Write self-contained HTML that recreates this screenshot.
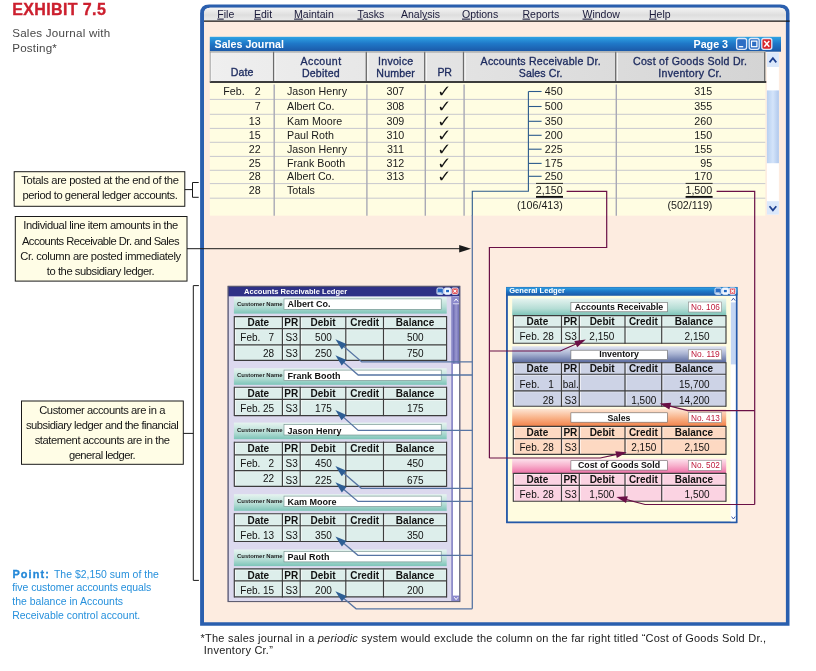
<!DOCTYPE html>
<html lang="en">
<head>
<meta charset="utf-8">
<title>Exhibit 7.5 Sales Journal with Posting</title>
<style>
html,body{margin:0;padding:0;background:#fff;}
body{width:816px;height:671px;overflow:hidden;}
svg{display:block;font-family:'Liberation Sans', Arial, Helvetica, sans-serif;}
</style>
</head>
<body>
<svg width="816" height="671" viewBox="0 0 816 671" font-family="'Liberation Sans', Arial, Helvetica, sans-serif">
<defs>
<linearGradient id="menug" x1="0" y1="0" x2="0" y2="1"><stop offset="0" stop-color="#f4f4f4"/><stop offset="0.55" stop-color="#dedede"/><stop offset="1" stop-color="#ececec"/></linearGradient>
<linearGradient id="titleg" x1="0" y1="0" x2="0" y2="1"><stop offset="0" stop-color="#2fa4e4"/><stop offset="0.45" stop-color="#1f78c8"/><stop offset="1" stop-color="#1b57a6"/></linearGradient>
<linearGradient id="hdrg" x1="0" y1="0" x2="1" y2="0"><stop offset="0" stop-color="#efefef"/><stop offset="1" stop-color="#d4d4d4"/></linearGradient>
<linearGradient id="tealg" x1="0" y1="0" x2="0" y2="1"><stop offset="0" stop-color="#e6f4f0"/><stop offset="0.6" stop-color="#b5ddd5"/><stop offset="1" stop-color="#7cc4b8"/></linearGradient>
<linearGradient id="invg" x1="0" y1="0" x2="0" y2="1"><stop offset="0" stop-color="#e2e6f2"/><stop offset="0.45" stop-color="#a9b3d2"/><stop offset="1" stop-color="#53639a"/></linearGradient>
<linearGradient id="salg" x1="0" y1="0" x2="0" y2="1"><stop offset="0" stop-color="#fde6d6"/><stop offset="0.5" stop-color="#f9b58c"/><stop offset="1" stop-color="#f2824a"/></linearGradient>
<linearGradient id="cogg" x1="0" y1="0" x2="0" y2="1"><stop offset="0" stop-color="#fde4ee"/><stop offset="0.5" stop-color="#f7aecb"/><stop offset="1" stop-color="#ee6fa6"/></linearGradient>
<linearGradient id="thumbg" x1="0" y1="0" x2="1" y2="0"><stop offset="0" stop-color="#b8d0f0"/><stop offset="0.5" stop-color="#d4e4fa"/><stop offset="1" stop-color="#b0c8ec"/></linearGradient>
<linearGradient id="arthumb" x1="0" y1="0" x2="1" y2="0"><stop offset="0" stop-color="#6a68b0"/><stop offset="0.5" stop-color="#9a98d0"/><stop offset="1" stop-color="#6a68b0"/></linearGradient>
</defs>
<path d="M200.1,625.8 L200.1,13.5 Q200.1,4.5 209.1,4.5 L780.5,4.5 Q789.5,4.5 789.5,13.5 L789.5,625.8 Z" fill="#2a5fae"/>
<path d="M204.0,622.1999999999999 L204.0,13.8 Q204.0,7.8 210.0,7.8 L779.9,7.8 Q785.9,7.8 785.9,13.8 L785.9,622.1999999999999 Z" fill="#fdece0"/>
<path d="M204.0,21 L204.0,13.8 Q204.0,7.8 210.0,7.8 L779.9,7.8 Q785.9,7.8 785.9,13.8 L785.9,21 Z" fill="url(#menug)"/>
<line x1="204.00" y1="21.10" x2="789.70" y2="21.10" stroke="#151515" stroke-width="1.25" />
<text x="217.30" y="17.60" font-size="10.5" fill="#1a1a3a" ><tspan text-decoration="underline">F</tspan>ile</text>
<text x="254.00" y="17.60" font-size="10.5" fill="#1a1a3a" ><tspan text-decoration="underline">E</tspan>dit</text>
<text x="294.10" y="17.60" font-size="10.5" fill="#1a1a3a" ><tspan text-decoration="underline">M</tspan>aintain</text>
<text x="357.40" y="17.60" font-size="10.5" fill="#1a1a3a" ><tspan text-decoration="underline">T</tspan>asks</text>
<text x="401.00" y="17.60" font-size="10.5" fill="#1a1a3a" >Anal<tspan text-decoration="underline">y</tspan>sis</text>
<text x="462.00" y="17.60" font-size="10.5" fill="#1a1a3a" ><tspan text-decoration="underline">O</tspan>ptions</text>
<text x="522.50" y="17.60" font-size="10.5" fill="#1a1a3a" ><tspan text-decoration="underline">R</tspan>eports</text>
<text x="582.50" y="17.60" font-size="10.5" fill="#1a1a3a" ><tspan text-decoration="underline">W</tspan>indow</text>
<text x="649.00" y="17.60" font-size="10.5" fill="#1a1a3a" ><tspan text-decoration="underline">H</tspan>elp</text>
<rect x="209.80" y="36.80" width="571.20" height="14.90" fill="url(#titleg)" />
<text x="214.50" y="47.80" font-size="10.7" font-weight="bold" fill="#fff" >Sales Journal</text>
<text x="728.00" y="47.80" font-size="10.7" text-anchor="end" font-weight="bold" fill="#fff" >Page 3</text>
<rect x="736.60" y="38.50" width="10.00" height="10.80" fill="#2d6ec4" stroke="#dfe8f8" stroke-width="1.3" rx="2" />
<line x1="738.80" y1="46.70" x2="743.20" y2="46.70" stroke="#fff" stroke-width="1.3" />
<rect x="749.20" y="38.50" width="10.00" height="10.80" fill="#2d6ec4" stroke="#dfe8f8" stroke-width="1.3" rx="2" />
<rect x="751.50" y="41.10" width="5.40" height="5.60" fill="none" stroke="#fff" stroke-width="1.2" />
<rect x="761.80" y="38.50" width="10.00" height="10.80" fill="#d8262c" stroke="#dfe8f8" stroke-width="1.3" rx="2" />
<path d="M764.3000000000001,41.0 L769.3000000000001,46.8 M769.3000000000001,41.0 L764.3000000000001,46.8" stroke="#fff" stroke-width="1.5" fill="none" />
<rect x="209.80" y="51.40" width="555.50" height="164.30" fill="#fffde2" />
<rect x="209.80" y="51.70" width="555.50" height="30.20" fill="url(#hdrg)" />
<line x1="210.80" y1="52.20" x2="210.80" y2="80.90" stroke="#fafafa" stroke-width="1" />
<line x1="273.60" y1="51.70" x2="273.60" y2="81.90" stroke="#6a6a6a" stroke-width="1.3" />
<line x1="275.20" y1="52.20" x2="275.20" y2="80.90" stroke="#fafafa" stroke-width="1" />
<line x1="366.30" y1="51.70" x2="366.30" y2="81.90" stroke="#6a6a6a" stroke-width="1.3" />
<line x1="367.90" y1="52.20" x2="367.90" y2="80.90" stroke="#fafafa" stroke-width="1" />
<line x1="424.70" y1="51.70" x2="424.70" y2="81.90" stroke="#6a6a6a" stroke-width="1.3" />
<line x1="426.30" y1="52.20" x2="426.30" y2="80.90" stroke="#fafafa" stroke-width="1" />
<line x1="463.50" y1="51.70" x2="463.50" y2="81.90" stroke="#6a6a6a" stroke-width="1.3" />
<line x1="465.10" y1="52.20" x2="465.10" y2="80.90" stroke="#fafafa" stroke-width="1" />
<line x1="615.70" y1="51.70" x2="615.70" y2="81.90" stroke="#6a6a6a" stroke-width="1.3" />
<line x1="617.30" y1="52.20" x2="617.30" y2="80.90" stroke="#fafafa" stroke-width="1" />
<line x1="764.70" y1="51.70" x2="764.70" y2="81.90" stroke="#6a6a6a" stroke-width="1.3" />
<line x1="209.80" y1="52.00" x2="765.30" y2="52.00" stroke="#8a8a8a" stroke-width="0.8" />
<line x1="209.80" y1="82.00" x2="766.30" y2="82.00" stroke="#3c3c3c" stroke-width="1.8" />
<line x1="210.20" y1="51.70" x2="210.20" y2="81.90" stroke="#8a8a8a" stroke-width="0.8" />
<text x="230.70" y="75.80" font-size="10.6" fill="#1c2a5e" textLength="22.6" lengthAdjust="spacing" stroke="#1c2a5e" stroke-width="0.32">Date</text>
<text x="300.50" y="64.60" font-size="10.6" fill="#1c2a5e" textLength="40.6" lengthAdjust="spacing" stroke="#1c2a5e" stroke-width="0.32">Account</text>
<text x="301.90" y="77.00" font-size="10.6" fill="#1c2a5e" textLength="37.8" lengthAdjust="spacing" stroke="#1c2a5e" stroke-width="0.32">Debited</text>
<text x="378.10" y="64.60" font-size="10.6" fill="#1c2a5e" textLength="35.0" lengthAdjust="spacing" stroke="#1c2a5e" stroke-width="0.32">Invoice</text>
<text x="376.30" y="77.00" font-size="10.6" fill="#1c2a5e" textLength="38.6" lengthAdjust="spacing" stroke="#1c2a5e" stroke-width="0.32">Number</text>
<text x="437.40" y="76.20" font-size="10.6" fill="#1c2a5e" textLength="14.4" lengthAdjust="spacing" stroke="#1c2a5e" stroke-width="0.32">PR</text>
<text x="480.60" y="64.60" font-size="10.6" fill="#1c2a5e" textLength="120.0" lengthAdjust="spacing" stroke="#1c2a5e" stroke-width="0.32">Accounts Receivable Dr.</text>
<text x="518.80" y="77.00" font-size="10.6" fill="#1c2a5e" textLength="43.6" lengthAdjust="spacing" stroke="#1c2a5e" stroke-width="0.32">Sales Cr.</text>
<text x="633.05" y="64.60" font-size="10.6" fill="#1c2a5e" textLength="113.9" lengthAdjust="spacing" stroke="#1c2a5e" stroke-width="0.32">Cost of Goods Sold Dr.</text>
<text x="658.20" y="77.00" font-size="10.6" fill="#1c2a5e" textLength="63.6" lengthAdjust="spacing" stroke="#1c2a5e" stroke-width="0.32">Inventory Cr.</text>
<line x1="209.80" y1="99.40" x2="765.30" y2="99.40" stroke="#c8c8ce" stroke-width="1" />
<line x1="209.80" y1="114.30" x2="765.30" y2="114.30" stroke="#c8c8ce" stroke-width="1" />
<line x1="209.80" y1="128.40" x2="765.30" y2="128.40" stroke="#c8c8ce" stroke-width="1" />
<line x1="209.80" y1="142.30" x2="765.30" y2="142.30" stroke="#c8c8ce" stroke-width="1" />
<line x1="209.80" y1="156.40" x2="765.30" y2="156.40" stroke="#c8c8ce" stroke-width="1" />
<line x1="209.80" y1="170.30" x2="765.30" y2="170.30" stroke="#c8c8ce" stroke-width="1" />
<line x1="209.80" y1="183.60" x2="765.30" y2="183.60" stroke="#c8c8ce" stroke-width="1" />
<line x1="209.80" y1="198.20" x2="765.30" y2="198.20" stroke="#c8c8ce" stroke-width="1" />
<line x1="274.20" y1="84.40" x2="274.20" y2="215.70" stroke="#a9a9b6" stroke-width="1.4" />
<line x1="366.90" y1="84.40" x2="366.90" y2="215.70" stroke="#a9a9b6" stroke-width="1.4" />
<line x1="425.30" y1="84.40" x2="425.30" y2="215.70" stroke="#a9a9b6" stroke-width="1.4" />
<line x1="464.10" y1="84.40" x2="464.10" y2="215.70" stroke="#a9a9b6" stroke-width="1.4" />
<line x1="616.30" y1="84.40" x2="616.30" y2="215.70" stroke="#a9a9b6" stroke-width="1.4" />
<text x="223.30" y="94.90" font-size="10.7" fill="#1a1a1a" >Feb.</text>
<text x="260.60" y="94.90" font-size="10.7" text-anchor="end" fill="#1a1a1a" >2</text>
<text x="287.00" y="94.90" font-size="10.7" fill="#1a1a1a" >Jason Henry</text>
<text x="395.40" y="94.90" font-size="10.7" text-anchor="middle" fill="#1a1a1a" >307</text>
<text x="444.20" y="97.10" font-size="16.8" text-anchor="middle" font-weight="bold" fill="#111" font-family="DejaVu Sans, sans-serif">✓</text>
<text x="562.60" y="94.90" font-size="10.7" text-anchor="end" fill="#1a1a1a" >450</text>
<text x="712.20" y="94.90" font-size="10.7" text-anchor="end" fill="#1a1a1a" >315</text>
<text x="260.60" y="109.90" font-size="10.7" text-anchor="end" fill="#1a1a1a" >7</text>
<text x="287.00" y="109.90" font-size="10.7" fill="#1a1a1a" >Albert Co.</text>
<text x="395.40" y="109.90" font-size="10.7" text-anchor="middle" fill="#1a1a1a" >308</text>
<text x="444.20" y="112.10" font-size="16.8" text-anchor="middle" font-weight="bold" fill="#111" font-family="DejaVu Sans, sans-serif">✓</text>
<text x="562.60" y="109.90" font-size="10.7" text-anchor="end" fill="#1a1a1a" >500</text>
<text x="712.20" y="109.90" font-size="10.7" text-anchor="end" fill="#1a1a1a" >355</text>
<text x="260.60" y="124.90" font-size="10.7" text-anchor="end" fill="#1a1a1a" >13</text>
<text x="287.00" y="124.90" font-size="10.7" fill="#1a1a1a" >Kam Moore</text>
<text x="395.40" y="124.90" font-size="10.7" text-anchor="middle" fill="#1a1a1a" >309</text>
<text x="444.20" y="127.10" font-size="16.8" text-anchor="middle" font-weight="bold" fill="#111" font-family="DejaVu Sans, sans-serif">✓</text>
<text x="562.60" y="124.90" font-size="10.7" text-anchor="end" fill="#1a1a1a" >350</text>
<text x="712.20" y="124.90" font-size="10.7" text-anchor="end" fill="#1a1a1a" >260</text>
<text x="260.60" y="138.90" font-size="10.7" text-anchor="end" fill="#1a1a1a" >15</text>
<text x="287.00" y="138.90" font-size="10.7" fill="#1a1a1a" >Paul Roth</text>
<text x="395.40" y="138.90" font-size="10.7" text-anchor="middle" fill="#1a1a1a" >310</text>
<text x="444.20" y="141.10" font-size="16.8" text-anchor="middle" font-weight="bold" fill="#111" font-family="DejaVu Sans, sans-serif">✓</text>
<text x="562.60" y="138.90" font-size="10.7" text-anchor="end" fill="#1a1a1a" >200</text>
<text x="712.20" y="138.90" font-size="10.7" text-anchor="end" fill="#1a1a1a" >150</text>
<text x="260.60" y="152.90" font-size="10.7" text-anchor="end" fill="#1a1a1a" >22</text>
<text x="287.00" y="152.90" font-size="10.7" fill="#1a1a1a" >Jason Henry</text>
<text x="395.40" y="152.90" font-size="10.7" text-anchor="middle" fill="#1a1a1a" >311</text>
<text x="444.20" y="155.10" font-size="16.8" text-anchor="middle" font-weight="bold" fill="#111" font-family="DejaVu Sans, sans-serif">✓</text>
<text x="562.60" y="152.90" font-size="10.7" text-anchor="end" fill="#1a1a1a" >225</text>
<text x="712.20" y="152.90" font-size="10.7" text-anchor="end" fill="#1a1a1a" >155</text>
<text x="260.60" y="166.90" font-size="10.7" text-anchor="end" fill="#1a1a1a" >25</text>
<text x="287.00" y="166.90" font-size="10.7" fill="#1a1a1a" >Frank Booth</text>
<text x="395.40" y="166.90" font-size="10.7" text-anchor="middle" fill="#1a1a1a" >312</text>
<text x="444.20" y="169.10" font-size="16.8" text-anchor="middle" font-weight="bold" fill="#111" font-family="DejaVu Sans, sans-serif">✓</text>
<text x="562.60" y="166.90" font-size="10.7" text-anchor="end" fill="#1a1a1a" >175</text>
<text x="712.20" y="166.90" font-size="10.7" text-anchor="end" fill="#1a1a1a" >95</text>
<text x="260.60" y="180.20" font-size="10.7" text-anchor="end" fill="#1a1a1a" >28</text>
<text x="287.00" y="180.20" font-size="10.7" fill="#1a1a1a" >Albert Co.</text>
<text x="395.40" y="180.20" font-size="10.7" text-anchor="middle" fill="#1a1a1a" >313</text>
<text x="444.20" y="182.40" font-size="16.8" text-anchor="middle" font-weight="bold" fill="#111" font-family="DejaVu Sans, sans-serif">✓</text>
<text x="562.60" y="180.20" font-size="10.7" text-anchor="end" fill="#1a1a1a" >250</text>
<text x="712.20" y="180.20" font-size="10.7" text-anchor="end" fill="#1a1a1a" >170</text>
<text x="260.60" y="194.20" font-size="10.7" text-anchor="end" fill="#1a1a1a" >28</text>
<text x="287.00" y="194.20" font-size="10.7" fill="#1a1a1a" >Totals</text>
<text x="562.60" y="194.20" font-size="10.7" text-anchor="end" fill="#1a1a1a" >2,150</text>
<text x="712.20" y="194.20" font-size="10.7" text-anchor="end" fill="#1a1a1a" >1,500</text>
<text x="562.80" y="209.00" font-size="10.7" text-anchor="end" fill="#1a1a1a" >(106/413)</text>
<text x="712.40" y="209.00" font-size="10.7" text-anchor="end" fill="#1a1a1a" >(502/119)</text>
<line x1="536.00" y1="183.40" x2="563.00" y2="183.40" stroke="#111" stroke-width="0.9" />
<line x1="536.00" y1="196.90" x2="563.00" y2="196.90" stroke="#111" stroke-width="1.9" />
<line x1="685.60" y1="183.40" x2="712.60" y2="183.40" stroke="#111" stroke-width="0.9" />
<line x1="685.60" y1="196.90" x2="712.60" y2="196.90" stroke="#111" stroke-width="1.9" />
<rect x="766.90" y="52.40" width="12.00" height="162.20" fill="#ffffff" />
<rect x="766.90" y="52.40" width="12.00" height="14.60" fill="#dbe8fb" />
<path d="M769.5,62.4 L772.9,58.2 L776.3,62.4" stroke="#1d3f8f" stroke-width="1.7" fill="none" />
<rect x="766.90" y="90.40" width="12.00" height="72.80" fill="url(#thumbg)" />
<rect x="766.90" y="201.20" width="12.00" height="13.40" fill="#dbe8fb" />
<path d="M769.5,206.2 L772.9,210.4 L776.3,206.2" stroke="#1d3f8f" stroke-width="1.7" fill="none" />
<path d="M528.4,91.5 L528.4,191.2 L472.3,191.2 L472.3,215.4" stroke="#2b5a8c" stroke-width="1.1" fill="none" />
<path d="M472.3,215.0 L472.3,608.8" stroke="#5674a3" stroke-width="1.3" fill="none" />
<line x1="528.40" y1="91.50" x2="541.60" y2="91.50" stroke="#2b5a8c" stroke-width="1.1" />
<line x1="528.40" y1="106.50" x2="541.60" y2="106.50" stroke="#2b5a8c" stroke-width="1.1" />
<line x1="528.40" y1="121.30" x2="541.60" y2="121.30" stroke="#2b5a8c" stroke-width="1.1" />
<line x1="528.40" y1="135.30" x2="541.60" y2="135.30" stroke="#2b5a8c" stroke-width="1.1" />
<line x1="528.40" y1="149.20" x2="541.60" y2="149.20" stroke="#2b5a8c" stroke-width="1.1" />
<line x1="528.40" y1="163.40" x2="541.60" y2="163.40" stroke="#2b5a8c" stroke-width="1.1" />
<line x1="528.40" y1="176.30" x2="541.60" y2="176.30" stroke="#2b5a8c" stroke-width="1.1" />
<rect x="228.10" y="286.30" width="231.70" height="315.30" fill="#dcd9ee" stroke="#5a5a9a" stroke-width="0.8" />
<rect x="228.10" y="286.30" width="231.70" height="10.00" fill="#2e3186" />
<text x="244.00" y="293.70" font-size="7.55" font-weight="bold" fill="#fff" >Accounts Receivable Ledger</text>
<rect x="437.00" y="288.00" width="6.30" height="6.30" fill="#2a6cc8" stroke="#e4ecfb" stroke-width="1.0" rx="1.2" />
<line x1="437.80" y1="293.10" x2="441.70" y2="293.10" stroke="#fff" stroke-width="1.2" />
<rect x="444.40" y="288.00" width="6.30" height="6.30" fill="#f4f8ff" stroke="#e4ecfb" stroke-width="1.0" rx="1.2" />
<rect x="446.10" y="289.90" width="2.90" height="2.30" fill="#1f66c0" />
<rect x="451.80" y="288.00" width="6.30" height="6.30" fill="#e0343a" stroke="#e4ecfb" stroke-width="1.0" rx="1.2" />
<path d="M453.4000000000001,289.6 L456.50000000000006,292.7 M456.50000000000006,289.6 L453.4000000000001,292.7" stroke="#fff" stroke-width="1.1" fill="none" />
<rect x="451.30" y="296.30" width="1.70" height="305.00" fill="#8280c4" />
<rect x="452.90" y="296.30" width="6.50" height="305.00" fill="#ffffff" />
<rect x="452.90" y="304.20" width="6.50" height="59.60" fill="url(#arthumb)" />
<rect x="452.90" y="296.30" width="6.50" height="7.20" fill="#8a88cc" />
<path d="M454.2,301.4 L456.1,298.9 L458.0,301.4" stroke="#ffffff" stroke-width="1.0" fill="none" />
<rect x="452.90" y="595.60" width="6.50" height="5.80" fill="#8a88cc" />
<path d="M454.2,597.2 L456.1,599.6 L458.0,597.2" stroke="#ffffff" stroke-width="1.0" fill="none" />
<rect x="228.10" y="286.30" width="231.70" height="315.30" fill="none" stroke="#5c5c6c" stroke-width="1.0" />
<rect x="233.90" y="297.00" width="212.80" height="16.60" fill="url(#tealg)" />
<rect x="284.00" y="298.90" width="157.20" height="10.50" fill="#ffffff" stroke="#6a8a86" stroke-width="0.6" />
<text x="237.00" y="305.90" font-size="5.95" font-weight="bold" fill="#222" >Customer Name</text>
<text x="287.60" y="307.30" font-size="9.0" font-weight="bold" fill="#111" >Albert Co.</text>
<rect x="234.30" y="316.60" width="212.30" height="43.80" fill="#ddeeeb" />
<line x1="235.50" y1="317.60" x2="235.50" y2="359.90" stroke="#ffffff" stroke-width="0.8" opacity="0.75"/>
<line x1="283.60" y1="317.60" x2="283.60" y2="359.90" stroke="#ffffff" stroke-width="0.8" opacity="0.75"/>
<line x1="301.40" y1="317.60" x2="301.40" y2="359.90" stroke="#ffffff" stroke-width="0.8" opacity="0.75"/>
<line x1="347.00" y1="317.60" x2="347.00" y2="359.90" stroke="#ffffff" stroke-width="0.8" opacity="0.75"/>
<line x1="384.70" y1="317.60" x2="384.70" y2="359.90" stroke="#ffffff" stroke-width="0.8" opacity="0.75"/>
<line x1="235.30" y1="317.70" x2="446.10" y2="317.70" stroke="#ffffff" stroke-width="0.7" opacity="0.6"/>
<line x1="235.30" y1="329.70" x2="446.10" y2="329.70" stroke="#ffffff" stroke-width="0.7" opacity="0.6"/>
<line x1="235.30" y1="345.90" x2="446.10" y2="345.90" stroke="#ffffff" stroke-width="0.7" opacity="0.6"/>
<line x1="234.30" y1="316.60" x2="446.60" y2="316.60" stroke="#3c3c3c" stroke-width="1.15" />
<line x1="234.30" y1="328.60" x2="446.60" y2="328.60" stroke="#3c3c3c" stroke-width="1.15" />
<line x1="234.30" y1="344.80" x2="446.60" y2="344.80" stroke="#3c3c3c" stroke-width="1.15" />
<line x1="234.30" y1="360.40" x2="446.60" y2="360.40" stroke="#3c3c3c" stroke-width="1.15" />
<line x1="234.30" y1="316.10" x2="234.30" y2="360.90" stroke="#3c3c3c" stroke-width="1.15" />
<line x1="282.40" y1="316.10" x2="282.40" y2="360.90" stroke="#3c3c3c" stroke-width="1.15" />
<line x1="300.20" y1="316.10" x2="300.20" y2="360.90" stroke="#3c3c3c" stroke-width="1.15" />
<line x1="345.80" y1="316.10" x2="345.80" y2="360.90" stroke="#3c3c3c" stroke-width="1.15" />
<line x1="383.50" y1="316.10" x2="383.50" y2="360.90" stroke="#3c3c3c" stroke-width="1.15" />
<line x1="446.60" y1="316.10" x2="446.60" y2="360.90" stroke="#3c3c3c" stroke-width="1.15" />
<text x="258.35" y="326.00" font-size="10.0" text-anchor="middle" font-weight="bold" fill="#111" >Date</text>
<text x="291.30" y="326.00" font-size="10.0" text-anchor="middle" font-weight="bold" fill="#111" >PR</text>
<text x="323.00" y="326.00" font-size="10.0" text-anchor="middle" font-weight="bold" fill="#111" >Debit</text>
<text x="364.65" y="326.00" font-size="10.0" text-anchor="middle" font-weight="bold" fill="#111" >Credit</text>
<text x="415.05" y="326.00" font-size="10.0" text-anchor="middle" font-weight="bold" fill="#111" >Balance</text>
<text x="240.30" y="341.00" font-size="10.0" fill="#111" >Feb.</text>
<text x="274.00" y="341.00" font-size="10.0" text-anchor="end" fill="#111" >7</text>
<text x="291.60" y="341.00" font-size="10.0" text-anchor="middle" fill="#111" >S3</text>
<text x="331.80" y="341.00" font-size="10.0" text-anchor="end" fill="#111" >500</text>
<text x="423.60" y="341.00" font-size="10.0" text-anchor="end" fill="#111" >500</text>
<text x="274.00" y="357.00" font-size="10.0" text-anchor="end" fill="#111" >28</text>
<text x="291.60" y="357.00" font-size="10.0" text-anchor="middle" fill="#111" >S3</text>
<text x="331.80" y="357.00" font-size="10.0" text-anchor="end" fill="#111" >250</text>
<text x="423.60" y="357.00" font-size="10.0" text-anchor="end" fill="#111" >750</text>
<rect x="233.90" y="368.20" width="212.80" height="16.60" fill="url(#tealg)" />
<rect x="284.00" y="370.10" width="157.20" height="10.50" fill="#ffffff" stroke="#6a8a86" stroke-width="0.6" />
<text x="237.00" y="377.10" font-size="5.95" font-weight="bold" fill="#222" >Customer Name</text>
<text x="287.60" y="378.50" font-size="9.0" font-weight="bold" fill="#111" >Frank Booth</text>
<rect x="234.30" y="387.20" width="212.30" height="28.40" fill="#ddeeeb" />
<line x1="235.50" y1="388.20" x2="235.50" y2="415.10" stroke="#ffffff" stroke-width="0.8" opacity="0.75"/>
<line x1="283.60" y1="388.20" x2="283.60" y2="415.10" stroke="#ffffff" stroke-width="0.8" opacity="0.75"/>
<line x1="301.40" y1="388.20" x2="301.40" y2="415.10" stroke="#ffffff" stroke-width="0.8" opacity="0.75"/>
<line x1="347.00" y1="388.20" x2="347.00" y2="415.10" stroke="#ffffff" stroke-width="0.8" opacity="0.75"/>
<line x1="384.70" y1="388.20" x2="384.70" y2="415.10" stroke="#ffffff" stroke-width="0.8" opacity="0.75"/>
<line x1="235.30" y1="388.30" x2="446.10" y2="388.30" stroke="#ffffff" stroke-width="0.7" opacity="0.6"/>
<line x1="235.30" y1="400.50" x2="446.10" y2="400.50" stroke="#ffffff" stroke-width="0.7" opacity="0.6"/>
<line x1="234.30" y1="387.20" x2="446.60" y2="387.20" stroke="#3c3c3c" stroke-width="1.15" />
<line x1="234.30" y1="399.40" x2="446.60" y2="399.40" stroke="#3c3c3c" stroke-width="1.15" />
<line x1="234.30" y1="415.60" x2="446.60" y2="415.60" stroke="#3c3c3c" stroke-width="1.15" />
<line x1="234.30" y1="386.70" x2="234.30" y2="416.10" stroke="#3c3c3c" stroke-width="1.15" />
<line x1="282.40" y1="386.70" x2="282.40" y2="416.10" stroke="#3c3c3c" stroke-width="1.15" />
<line x1="300.20" y1="386.70" x2="300.20" y2="416.10" stroke="#3c3c3c" stroke-width="1.15" />
<line x1="345.80" y1="386.70" x2="345.80" y2="416.10" stroke="#3c3c3c" stroke-width="1.15" />
<line x1="383.50" y1="386.70" x2="383.50" y2="416.10" stroke="#3c3c3c" stroke-width="1.15" />
<line x1="446.60" y1="386.70" x2="446.60" y2="416.10" stroke="#3c3c3c" stroke-width="1.15" />
<text x="258.35" y="397.00" font-size="10.0" text-anchor="middle" font-weight="bold" fill="#111" >Date</text>
<text x="291.30" y="397.00" font-size="10.0" text-anchor="middle" font-weight="bold" fill="#111" >PR</text>
<text x="323.00" y="397.00" font-size="10.0" text-anchor="middle" font-weight="bold" fill="#111" >Debit</text>
<text x="364.65" y="397.00" font-size="10.0" text-anchor="middle" font-weight="bold" fill="#111" >Credit</text>
<text x="415.05" y="397.00" font-size="10.0" text-anchor="middle" font-weight="bold" fill="#111" >Balance</text>
<text x="240.30" y="412.00" font-size="10.0" fill="#111" >Feb.</text>
<text x="274.00" y="412.00" font-size="10.0" text-anchor="end" fill="#111" >25</text>
<text x="291.60" y="412.00" font-size="10.0" text-anchor="middle" fill="#111" >S3</text>
<text x="331.80" y="412.00" font-size="10.0" text-anchor="end" fill="#111" >175</text>
<text x="423.60" y="412.00" font-size="10.0" text-anchor="end" fill="#111" >175</text>
<rect x="233.90" y="422.60" width="212.80" height="16.60" fill="url(#tealg)" />
<rect x="284.00" y="424.50" width="157.20" height="10.50" fill="#ffffff" stroke="#6a8a86" stroke-width="0.6" />
<text x="237.00" y="431.50" font-size="5.95" font-weight="bold" fill="#222" >Customer Name</text>
<text x="287.60" y="434.00" font-size="9.0" font-weight="bold" fill="#111" >Jason Henry</text>
<rect x="234.30" y="442.20" width="212.30" height="44.10" fill="#ddeeeb" />
<line x1="235.50" y1="443.20" x2="235.50" y2="485.80" stroke="#ffffff" stroke-width="0.8" opacity="0.75"/>
<line x1="283.60" y1="443.20" x2="283.60" y2="485.80" stroke="#ffffff" stroke-width="0.8" opacity="0.75"/>
<line x1="301.40" y1="443.20" x2="301.40" y2="485.80" stroke="#ffffff" stroke-width="0.8" opacity="0.75"/>
<line x1="347.00" y1="443.20" x2="347.00" y2="485.80" stroke="#ffffff" stroke-width="0.8" opacity="0.75"/>
<line x1="384.70" y1="443.20" x2="384.70" y2="485.80" stroke="#ffffff" stroke-width="0.8" opacity="0.75"/>
<line x1="235.30" y1="443.30" x2="446.10" y2="443.30" stroke="#ffffff" stroke-width="0.7" opacity="0.6"/>
<line x1="235.30" y1="455.90" x2="446.10" y2="455.90" stroke="#ffffff" stroke-width="0.7" opacity="0.6"/>
<line x1="235.30" y1="471.70" x2="446.10" y2="471.70" stroke="#ffffff" stroke-width="0.7" opacity="0.6"/>
<line x1="234.30" y1="442.20" x2="446.60" y2="442.20" stroke="#3c3c3c" stroke-width="1.15" />
<line x1="234.30" y1="454.80" x2="446.60" y2="454.80" stroke="#3c3c3c" stroke-width="1.15" />
<line x1="234.30" y1="470.60" x2="446.60" y2="470.60" stroke="#3c3c3c" stroke-width="1.15" />
<line x1="234.30" y1="486.30" x2="446.60" y2="486.30" stroke="#3c3c3c" stroke-width="1.15" />
<line x1="234.30" y1="441.70" x2="234.30" y2="486.80" stroke="#3c3c3c" stroke-width="1.15" />
<line x1="282.40" y1="441.70" x2="282.40" y2="486.80" stroke="#3c3c3c" stroke-width="1.15" />
<line x1="300.20" y1="441.70" x2="300.20" y2="486.80" stroke="#3c3c3c" stroke-width="1.15" />
<line x1="345.80" y1="441.70" x2="345.80" y2="486.80" stroke="#3c3c3c" stroke-width="1.15" />
<line x1="383.50" y1="441.70" x2="383.50" y2="486.80" stroke="#3c3c3c" stroke-width="1.15" />
<line x1="446.60" y1="441.70" x2="446.60" y2="486.80" stroke="#3c3c3c" stroke-width="1.15" />
<text x="258.35" y="452.00" font-size="10.0" text-anchor="middle" font-weight="bold" fill="#111" >Date</text>
<text x="291.30" y="452.00" font-size="10.0" text-anchor="middle" font-weight="bold" fill="#111" >PR</text>
<text x="323.00" y="452.00" font-size="10.0" text-anchor="middle" font-weight="bold" fill="#111" >Debit</text>
<text x="364.65" y="452.00" font-size="10.0" text-anchor="middle" font-weight="bold" fill="#111" >Credit</text>
<text x="415.05" y="452.00" font-size="10.0" text-anchor="middle" font-weight="bold" fill="#111" >Balance</text>
<text x="240.30" y="467.00" font-size="10.0" fill="#111" >Feb.</text>
<text x="274.00" y="467.00" font-size="10.0" text-anchor="end" fill="#111" >2</text>
<text x="291.60" y="467.00" font-size="10.0" text-anchor="middle" fill="#111" >S3</text>
<text x="331.80" y="467.00" font-size="10.0" text-anchor="end" fill="#111" >450</text>
<text x="423.60" y="467.00" font-size="10.0" text-anchor="end" fill="#111" >450</text>
<text x="274.00" y="482.00" font-size="10.0" text-anchor="end" fill="#111" >22</text>
<text x="291.60" y="484.00" font-size="10.0" text-anchor="middle" fill="#111" >S3</text>
<text x="331.80" y="484.00" font-size="10.0" text-anchor="end" fill="#111" >225</text>
<text x="423.60" y="484.00" font-size="10.0" text-anchor="end" fill="#111" >675</text>
<rect x="233.90" y="494.20" width="212.80" height="16.60" fill="url(#tealg)" />
<rect x="284.00" y="496.10" width="157.20" height="10.50" fill="#ffffff" stroke="#6a8a86" stroke-width="0.6" />
<text x="237.00" y="503.10" font-size="5.95" font-weight="bold" fill="#222" >Customer Name</text>
<text x="287.60" y="504.50" font-size="9.0" font-weight="bold" fill="#111" >Kam Moore</text>
<rect x="234.30" y="513.70" width="212.30" height="27.80" fill="#ddeeeb" />
<line x1="235.50" y1="514.70" x2="235.50" y2="541.00" stroke="#ffffff" stroke-width="0.8" opacity="0.75"/>
<line x1="283.60" y1="514.70" x2="283.60" y2="541.00" stroke="#ffffff" stroke-width="0.8" opacity="0.75"/>
<line x1="301.40" y1="514.70" x2="301.40" y2="541.00" stroke="#ffffff" stroke-width="0.8" opacity="0.75"/>
<line x1="347.00" y1="514.70" x2="347.00" y2="541.00" stroke="#ffffff" stroke-width="0.8" opacity="0.75"/>
<line x1="384.70" y1="514.70" x2="384.70" y2="541.00" stroke="#ffffff" stroke-width="0.8" opacity="0.75"/>
<line x1="235.30" y1="514.80" x2="446.10" y2="514.80" stroke="#ffffff" stroke-width="0.7" opacity="0.6"/>
<line x1="235.30" y1="526.80" x2="446.10" y2="526.80" stroke="#ffffff" stroke-width="0.7" opacity="0.6"/>
<line x1="234.30" y1="513.70" x2="446.60" y2="513.70" stroke="#3c3c3c" stroke-width="1.15" />
<line x1="234.30" y1="525.70" x2="446.60" y2="525.70" stroke="#3c3c3c" stroke-width="1.15" />
<line x1="234.30" y1="541.50" x2="446.60" y2="541.50" stroke="#3c3c3c" stroke-width="1.15" />
<line x1="234.30" y1="513.20" x2="234.30" y2="542.00" stroke="#3c3c3c" stroke-width="1.15" />
<line x1="282.40" y1="513.20" x2="282.40" y2="542.00" stroke="#3c3c3c" stroke-width="1.15" />
<line x1="300.20" y1="513.20" x2="300.20" y2="542.00" stroke="#3c3c3c" stroke-width="1.15" />
<line x1="345.80" y1="513.20" x2="345.80" y2="542.00" stroke="#3c3c3c" stroke-width="1.15" />
<line x1="383.50" y1="513.20" x2="383.50" y2="542.00" stroke="#3c3c3c" stroke-width="1.15" />
<line x1="446.60" y1="513.20" x2="446.60" y2="542.00" stroke="#3c3c3c" stroke-width="1.15" />
<text x="258.35" y="524.00" font-size="10.0" text-anchor="middle" font-weight="bold" fill="#111" >Date</text>
<text x="291.30" y="524.00" font-size="10.0" text-anchor="middle" font-weight="bold" fill="#111" >PR</text>
<text x="323.00" y="524.00" font-size="10.0" text-anchor="middle" font-weight="bold" fill="#111" >Debit</text>
<text x="364.65" y="524.00" font-size="10.0" text-anchor="middle" font-weight="bold" fill="#111" >Credit</text>
<text x="415.05" y="524.00" font-size="10.0" text-anchor="middle" font-weight="bold" fill="#111" >Balance</text>
<text x="240.30" y="539.00" font-size="10.0" fill="#111" >Feb.</text>
<text x="274.00" y="539.00" font-size="10.0" text-anchor="end" fill="#111" >13</text>
<text x="291.60" y="539.00" font-size="10.0" text-anchor="middle" fill="#111" >S3</text>
<text x="331.80" y="539.00" font-size="10.0" text-anchor="end" fill="#111" >350</text>
<text x="423.60" y="539.00" font-size="10.0" text-anchor="end" fill="#111" >350</text>
<rect x="233.90" y="549.50" width="212.80" height="16.60" fill="url(#tealg)" />
<rect x="284.00" y="551.40" width="157.20" height="10.50" fill="#ffffff" stroke="#6a8a86" stroke-width="0.6" />
<text x="237.00" y="558.40" font-size="5.95" font-weight="bold" fill="#222" >Customer Name</text>
<text x="287.60" y="559.80" font-size="9.0" font-weight="bold" fill="#111" >Paul Roth</text>
<rect x="234.30" y="568.90" width="212.30" height="28.00" fill="#ddeeeb" />
<line x1="235.50" y1="569.90" x2="235.50" y2="596.40" stroke="#ffffff" stroke-width="0.8" opacity="0.75"/>
<line x1="283.60" y1="569.90" x2="283.60" y2="596.40" stroke="#ffffff" stroke-width="0.8" opacity="0.75"/>
<line x1="301.40" y1="569.90" x2="301.40" y2="596.40" stroke="#ffffff" stroke-width="0.8" opacity="0.75"/>
<line x1="347.00" y1="569.90" x2="347.00" y2="596.40" stroke="#ffffff" stroke-width="0.8" opacity="0.75"/>
<line x1="384.70" y1="569.90" x2="384.70" y2="596.40" stroke="#ffffff" stroke-width="0.8" opacity="0.75"/>
<line x1="235.30" y1="570.00" x2="446.10" y2="570.00" stroke="#ffffff" stroke-width="0.7" opacity="0.6"/>
<line x1="235.30" y1="581.90" x2="446.10" y2="581.90" stroke="#ffffff" stroke-width="0.7" opacity="0.6"/>
<line x1="234.30" y1="568.90" x2="446.60" y2="568.90" stroke="#3c3c3c" stroke-width="1.15" />
<line x1="234.30" y1="580.80" x2="446.60" y2="580.80" stroke="#3c3c3c" stroke-width="1.15" />
<line x1="234.30" y1="596.90" x2="446.60" y2="596.90" stroke="#3c3c3c" stroke-width="1.15" />
<line x1="234.30" y1="568.40" x2="234.30" y2="597.40" stroke="#3c3c3c" stroke-width="1.15" />
<line x1="282.40" y1="568.40" x2="282.40" y2="597.40" stroke="#3c3c3c" stroke-width="1.15" />
<line x1="300.20" y1="568.40" x2="300.20" y2="597.40" stroke="#3c3c3c" stroke-width="1.15" />
<line x1="345.80" y1="568.40" x2="345.80" y2="597.40" stroke="#3c3c3c" stroke-width="1.15" />
<line x1="383.50" y1="568.40" x2="383.50" y2="597.40" stroke="#3c3c3c" stroke-width="1.15" />
<line x1="446.60" y1="568.40" x2="446.60" y2="597.40" stroke="#3c3c3c" stroke-width="1.15" />
<text x="258.35" y="579.00" font-size="10.0" text-anchor="middle" font-weight="bold" fill="#111" >Date</text>
<text x="291.30" y="579.00" font-size="10.0" text-anchor="middle" font-weight="bold" fill="#111" >PR</text>
<text x="323.00" y="579.00" font-size="10.0" text-anchor="middle" font-weight="bold" fill="#111" >Debit</text>
<text x="364.65" y="579.00" font-size="10.0" text-anchor="middle" font-weight="bold" fill="#111" >Credit</text>
<text x="415.05" y="579.00" font-size="10.0" text-anchor="middle" font-weight="bold" fill="#111" >Balance</text>
<text x="240.30" y="594.00" font-size="10.0" fill="#111" >Feb.</text>
<text x="274.00" y="594.00" font-size="10.0" text-anchor="end" fill="#111" >15</text>
<text x="291.60" y="594.00" font-size="10.0" text-anchor="middle" fill="#111" >S3</text>
<text x="331.80" y="594.00" font-size="10.0" text-anchor="end" fill="#111" >200</text>
<text x="423.60" y="594.00" font-size="10.0" text-anchor="end" fill="#111" >200</text>
<rect x="506.90" y="287.70" width="229.70" height="234.70" fill="#fffce0" stroke="#2458a8" stroke-width="1.4" />
<rect x="506.20" y="287.00" width="231.10" height="8.20" fill="url(#titleg)" />
<text x="509.20" y="293.40" font-size="7.6" font-weight="bold" fill="#fff" >General Ledger</text>
<rect x="715.00" y="288.20" width="6.00" height="5.60" fill="#2d6ec4" stroke="#e8f0ff" stroke-width="1.0" rx="1.2" />
<line x1="715.80" y1="292.60" x2="719.40" y2="292.60" stroke="#fff" stroke-width="1.2" />
<rect x="721.90" y="288.20" width="6.00" height="5.60" fill="#f4f8ff" stroke="#e8f0ff" stroke-width="1.0" rx="1.2" />
<rect x="723.60" y="290.10" width="2.60" height="1.60" fill="#1f66c0" />
<rect x="728.80" y="288.20" width="6.00" height="5.60" fill="#e0343a" stroke="#e8f0ff" stroke-width="1.0" rx="1.2" />
<path d="M730.4,289.8 L733.1999999999999,292.2 M733.1999999999999,289.8 L730.4,292.2" stroke="#fff" stroke-width="1.1" fill="none" />
<rect x="730.60" y="295.20" width="5.60" height="226.40" fill="#ffffff" />
<rect x="730.90" y="302.40" width="5.00" height="62.00" fill="#c4d6f4" />
<path d="M731.6,300.6 L733.4,298.2 L735.2,300.6" stroke="#2a4aa0" stroke-width="0.9" fill="none" />
<path d="M731.6,516.6 L733.4,519.0 L735.2,516.6" stroke="#2a4aa0" stroke-width="0.9" fill="none" />
<rect x="506.90" y="287.70" width="229.70" height="234.70" fill="none" stroke="#2458a8" stroke-width="1.5" />
<rect x="506.20" y="287.40" width="231.10" height="8.30" fill="url(#titleg)" />
<text x="509.20" y="293.10" font-size="7.6" font-weight="bold" fill="#fff" >General Ledger</text>
<rect x="715.00" y="288.00" width="6.30" height="6.30" fill="#2d6ec4" stroke="#e8f0ff" stroke-width="1.0" rx="1.2" />
<line x1="715.80" y1="293.10" x2="719.70" y2="293.10" stroke="#fff" stroke-width="1.2" />
<rect x="722.20" y="288.00" width="6.30" height="6.30" fill="#f4f8ff" stroke="#e8f0ff" stroke-width="1.0" rx="1.2" />
<rect x="723.90" y="289.90" width="2.90" height="2.30" fill="#1f66c0" />
<rect x="729.40" y="288.00" width="6.30" height="6.30" fill="#e65a64" stroke="#e8f0ff" stroke-width="1.0" rx="1.2" />
<path d="M730.9999999999999,289.6 L734.0999999999998,292.7 M734.0999999999998,289.6 L730.9999999999999,292.7" stroke="#fff" stroke-width="1.1" fill="none" />
<rect x="512.20" y="298.40" width="214.00" height="17.00" fill="url(#tealg)" />
<rect x="570.90" y="302.40" width="96.40" height="9.40" fill="#ffffff" stroke="#6a6a6a" stroke-width="0.6" />
<text x="619.00" y="309.80" font-size="8.8" text-anchor="middle" font-weight="bold" fill="#111" >Accounts Receivable</text>
<rect x="688.60" y="302.00" width="33.00" height="10.00" fill="#ffffff" stroke="#8a8a8a" stroke-width="0.6" />
<text x="691.00" y="310.10" font-size="9.1" fill="#bc1838" textLength="28.8" lengthAdjust="spacingAndGlyphs">No. 106</text>
<rect x="513.30" y="315.60" width="212.70" height="27.60" fill="#ddeeeb" />
<line x1="514.50" y1="316.60" x2="514.50" y2="342.70" stroke="#ffffff" stroke-width="0.8" opacity="0.75"/>
<line x1="562.70" y1="316.60" x2="562.70" y2="342.70" stroke="#ffffff" stroke-width="0.8" opacity="0.75"/>
<line x1="580.50" y1="316.60" x2="580.50" y2="342.70" stroke="#ffffff" stroke-width="0.8" opacity="0.75"/>
<line x1="626.20" y1="316.60" x2="626.20" y2="342.70" stroke="#ffffff" stroke-width="0.8" opacity="0.75"/>
<line x1="662.90" y1="316.60" x2="662.90" y2="342.70" stroke="#ffffff" stroke-width="0.8" opacity="0.75"/>
<line x1="514.30" y1="316.70" x2="725.50" y2="316.70" stroke="#ffffff" stroke-width="0.7" opacity="0.6"/>
<line x1="514.30" y1="328.10" x2="725.50" y2="328.10" stroke="#ffffff" stroke-width="0.7" opacity="0.6"/>
<line x1="513.30" y1="315.60" x2="726.00" y2="315.60" stroke="#3c3c3c" stroke-width="1.15" />
<line x1="513.30" y1="327.00" x2="726.00" y2="327.00" stroke="#3c3c3c" stroke-width="1.15" />
<line x1="513.30" y1="343.20" x2="726.00" y2="343.20" stroke="#3c3c3c" stroke-width="1.15" />
<line x1="513.30" y1="315.10" x2="513.30" y2="343.70" stroke="#3c3c3c" stroke-width="1.15" />
<line x1="561.50" y1="315.10" x2="561.50" y2="343.70" stroke="#3c3c3c" stroke-width="1.15" />
<line x1="579.30" y1="315.10" x2="579.30" y2="343.70" stroke="#3c3c3c" stroke-width="1.15" />
<line x1="625.00" y1="315.10" x2="625.00" y2="343.70" stroke="#3c3c3c" stroke-width="1.15" />
<line x1="661.70" y1="315.10" x2="661.70" y2="343.70" stroke="#3c3c3c" stroke-width="1.15" />
<line x1="726.00" y1="315.10" x2="726.00" y2="343.70" stroke="#3c3c3c" stroke-width="1.15" />
<text x="537.40" y="325.00" font-size="10.0" text-anchor="middle" font-weight="bold" fill="#111" >Date</text>
<text x="570.40" y="325.00" font-size="10.0" text-anchor="middle" font-weight="bold" fill="#111" >PR</text>
<text x="602.15" y="325.00" font-size="10.0" text-anchor="middle" font-weight="bold" fill="#111" >Debit</text>
<text x="643.35" y="325.00" font-size="10.0" text-anchor="middle" font-weight="bold" fill="#111" >Credit</text>
<text x="693.85" y="325.00" font-size="10.0" text-anchor="middle" font-weight="bold" fill="#111" >Balance</text>
<text x="519.50" y="340.00" font-size="10.0" fill="#111" >Feb.</text>
<text x="553.90" y="340.00" font-size="10.0" text-anchor="end" fill="#111" >28</text>
<text x="570.70" y="340.00" font-size="10.0" text-anchor="middle" fill="#111" >S3</text>
<text x="614.40" y="340.00" font-size="10.0" text-anchor="end" fill="#111" >2,150</text>
<text x="709.60" y="340.00" font-size="10.0" text-anchor="end" fill="#111" >2,150</text>
<rect x="512.20" y="346.20" width="214.00" height="17.00" fill="url(#invg)" />
<rect x="570.90" y="350.20" width="96.40" height="9.40" fill="#ffffff" stroke="#6a6a6a" stroke-width="0.6" />
<text x="619.00" y="356.60" font-size="8.8" text-anchor="middle" font-weight="bold" fill="#111" >Inventory</text>
<rect x="688.60" y="349.80" width="33.00" height="10.00" fill="#ffffff" stroke="#8a8a8a" stroke-width="0.6" />
<text x="691.00" y="356.90" font-size="9.1" fill="#bc1838" textLength="28.8" lengthAdjust="spacingAndGlyphs">No. 119</text>
<rect x="513.30" y="362.70" width="212.70" height="43.50" fill="#cdd3e6" />
<line x1="514.50" y1="363.70" x2="514.50" y2="405.70" stroke="#ffffff" stroke-width="0.8" opacity="0.75"/>
<line x1="562.70" y1="363.70" x2="562.70" y2="405.70" stroke="#ffffff" stroke-width="0.8" opacity="0.75"/>
<line x1="580.50" y1="363.70" x2="580.50" y2="405.70" stroke="#ffffff" stroke-width="0.8" opacity="0.75"/>
<line x1="626.20" y1="363.70" x2="626.20" y2="405.70" stroke="#ffffff" stroke-width="0.8" opacity="0.75"/>
<line x1="662.90" y1="363.70" x2="662.90" y2="405.70" stroke="#ffffff" stroke-width="0.8" opacity="0.75"/>
<line x1="514.30" y1="363.80" x2="725.50" y2="363.80" stroke="#ffffff" stroke-width="0.7" opacity="0.6"/>
<line x1="514.30" y1="375.30" x2="725.50" y2="375.30" stroke="#ffffff" stroke-width="0.7" opacity="0.6"/>
<line x1="514.30" y1="391.90" x2="725.50" y2="391.90" stroke="#ffffff" stroke-width="0.7" opacity="0.6"/>
<line x1="513.30" y1="362.70" x2="726.00" y2="362.70" stroke="#3c3c3c" stroke-width="1.15" />
<line x1="513.30" y1="374.20" x2="726.00" y2="374.20" stroke="#3c3c3c" stroke-width="1.15" />
<line x1="513.30" y1="390.80" x2="726.00" y2="390.80" stroke="#3c3c3c" stroke-width="1.15" />
<line x1="513.30" y1="406.20" x2="726.00" y2="406.20" stroke="#3c3c3c" stroke-width="1.15" />
<line x1="513.30" y1="362.20" x2="513.30" y2="406.70" stroke="#3c3c3c" stroke-width="1.15" />
<line x1="561.50" y1="362.20" x2="561.50" y2="406.70" stroke="#3c3c3c" stroke-width="1.15" />
<line x1="579.30" y1="362.20" x2="579.30" y2="406.70" stroke="#3c3c3c" stroke-width="1.15" />
<line x1="625.00" y1="362.20" x2="625.00" y2="406.70" stroke="#3c3c3c" stroke-width="1.15" />
<line x1="661.70" y1="362.20" x2="661.70" y2="406.70" stroke="#3c3c3c" stroke-width="1.15" />
<line x1="726.00" y1="362.20" x2="726.00" y2="406.70" stroke="#3c3c3c" stroke-width="1.15" />
<text x="537.40" y="372.00" font-size="10.0" text-anchor="middle" font-weight="bold" fill="#111" >Date</text>
<text x="570.40" y="372.00" font-size="10.0" text-anchor="middle" font-weight="bold" fill="#111" >PR</text>
<text x="602.15" y="372.00" font-size="10.0" text-anchor="middle" font-weight="bold" fill="#111" >Debit</text>
<text x="643.35" y="372.00" font-size="10.0" text-anchor="middle" font-weight="bold" fill="#111" >Credit</text>
<text x="693.85" y="372.00" font-size="10.0" text-anchor="middle" font-weight="bold" fill="#111" >Balance</text>
<text x="519.50" y="388.00" font-size="10.0" fill="#111" >Feb.</text>
<text x="553.90" y="388.00" font-size="10.0" text-anchor="end" fill="#111" >1</text>
<text x="570.70" y="388.00" font-size="10.0" text-anchor="middle" fill="#111" >bal.</text>
<text x="709.60" y="388.00" font-size="10.0" text-anchor="end" fill="#111" >15,700</text>
<text x="553.90" y="404.00" font-size="10.0" text-anchor="end" fill="#111" >28</text>
<text x="570.70" y="404.00" font-size="10.0" text-anchor="middle" fill="#111" >S3</text>
<text x="656.30" y="404.00" font-size="10.0" text-anchor="end" fill="#111" >1,500</text>
<text x="709.60" y="404.00" font-size="10.0" text-anchor="end" fill="#111" >14,200</text>
<rect x="512.20" y="408.80" width="214.00" height="17.40" fill="url(#salg)" />
<rect x="570.90" y="412.80" width="96.40" height="9.40" fill="#ffffff" stroke="#6a6a6a" stroke-width="0.6" />
<text x="619.00" y="420.90" font-size="8.8" text-anchor="middle" font-weight="bold" fill="#111" >Sales</text>
<rect x="688.60" y="412.40" width="33.00" height="10.00" fill="#ffffff" stroke="#8a8a8a" stroke-width="0.6" />
<text x="691.00" y="420.50" font-size="9.1" fill="#bc1838" textLength="28.8" lengthAdjust="spacingAndGlyphs">No. 413</text>
<rect x="513.30" y="426.40" width="212.70" height="28.00" fill="#fdd9c2" />
<line x1="514.50" y1="427.40" x2="514.50" y2="453.90" stroke="#ffffff" stroke-width="0.8" opacity="0.75"/>
<line x1="562.70" y1="427.40" x2="562.70" y2="453.90" stroke="#ffffff" stroke-width="0.8" opacity="0.75"/>
<line x1="580.50" y1="427.40" x2="580.50" y2="453.90" stroke="#ffffff" stroke-width="0.8" opacity="0.75"/>
<line x1="626.20" y1="427.40" x2="626.20" y2="453.90" stroke="#ffffff" stroke-width="0.8" opacity="0.75"/>
<line x1="662.90" y1="427.40" x2="662.90" y2="453.90" stroke="#ffffff" stroke-width="0.8" opacity="0.75"/>
<line x1="514.30" y1="427.50" x2="725.50" y2="427.50" stroke="#ffffff" stroke-width="0.7" opacity="0.6"/>
<line x1="514.30" y1="439.70" x2="725.50" y2="439.70" stroke="#ffffff" stroke-width="0.7" opacity="0.6"/>
<line x1="513.30" y1="426.40" x2="726.00" y2="426.40" stroke="#3c3c3c" stroke-width="1.15" />
<line x1="513.30" y1="438.60" x2="726.00" y2="438.60" stroke="#3c3c3c" stroke-width="1.15" />
<line x1="513.30" y1="454.40" x2="726.00" y2="454.40" stroke="#3c3c3c" stroke-width="1.15" />
<line x1="513.30" y1="425.90" x2="513.30" y2="454.90" stroke="#3c3c3c" stroke-width="1.15" />
<line x1="561.50" y1="425.90" x2="561.50" y2="454.90" stroke="#3c3c3c" stroke-width="1.15" />
<line x1="579.30" y1="425.90" x2="579.30" y2="454.90" stroke="#3c3c3c" stroke-width="1.15" />
<line x1="625.00" y1="425.90" x2="625.00" y2="454.90" stroke="#3c3c3c" stroke-width="1.15" />
<line x1="661.70" y1="425.90" x2="661.70" y2="454.90" stroke="#3c3c3c" stroke-width="1.15" />
<line x1="726.00" y1="425.90" x2="726.00" y2="454.90" stroke="#3c3c3c" stroke-width="1.15" />
<text x="537.40" y="436.00" font-size="10.0" text-anchor="middle" font-weight="bold" fill="#111" >Date</text>
<text x="570.40" y="436.00" font-size="10.0" text-anchor="middle" font-weight="bold" fill="#111" >PR</text>
<text x="602.15" y="436.00" font-size="10.0" text-anchor="middle" font-weight="bold" fill="#111" >Debit</text>
<text x="643.35" y="436.00" font-size="10.0" text-anchor="middle" font-weight="bold" fill="#111" >Credit</text>
<text x="693.85" y="436.00" font-size="10.0" text-anchor="middle" font-weight="bold" fill="#111" >Balance</text>
<text x="519.50" y="451.00" font-size="10.0" fill="#111" >Feb.</text>
<text x="553.90" y="451.00" font-size="10.0" text-anchor="end" fill="#111" >28</text>
<text x="570.70" y="451.00" font-size="10.0" text-anchor="middle" fill="#111" >S3</text>
<text x="656.30" y="451.00" font-size="10.0" text-anchor="end" fill="#111" >2,150</text>
<text x="709.60" y="451.00" font-size="10.0" text-anchor="end" fill="#111" >2,150</text>
<rect x="512.20" y="458.60" width="214.00" height="14.80" fill="url(#cogg)" />
<rect x="570.90" y="460.70" width="96.40" height="9.40" fill="#ffffff" stroke="#6a6a6a" stroke-width="0.6" />
<text x="619.00" y="468.10" font-size="8.8" text-anchor="middle" font-weight="bold" fill="#111" >Cost of Goods Sold</text>
<rect x="688.60" y="460.30" width="33.00" height="10.00" fill="#ffffff" stroke="#8a8a8a" stroke-width="0.6" />
<text x="691.00" y="468.40" font-size="9.1" fill="#bc1838" textLength="28.8" lengthAdjust="spacingAndGlyphs">No. 502</text>
<rect x="513.30" y="473.40" width="212.70" height="27.80" fill="#fbd3e2" />
<line x1="514.50" y1="474.40" x2="514.50" y2="500.70" stroke="#ffffff" stroke-width="0.8" opacity="0.75"/>
<line x1="562.70" y1="474.40" x2="562.70" y2="500.70" stroke="#ffffff" stroke-width="0.8" opacity="0.75"/>
<line x1="580.50" y1="474.40" x2="580.50" y2="500.70" stroke="#ffffff" stroke-width="0.8" opacity="0.75"/>
<line x1="626.20" y1="474.40" x2="626.20" y2="500.70" stroke="#ffffff" stroke-width="0.8" opacity="0.75"/>
<line x1="662.90" y1="474.40" x2="662.90" y2="500.70" stroke="#ffffff" stroke-width="0.8" opacity="0.75"/>
<line x1="514.30" y1="474.50" x2="725.50" y2="474.50" stroke="#ffffff" stroke-width="0.7" opacity="0.6"/>
<line x1="514.30" y1="486.50" x2="725.50" y2="486.50" stroke="#ffffff" stroke-width="0.7" opacity="0.6"/>
<line x1="513.30" y1="473.40" x2="726.00" y2="473.40" stroke="#3c3c3c" stroke-width="1.15" />
<line x1="513.30" y1="485.40" x2="726.00" y2="485.40" stroke="#3c3c3c" stroke-width="1.15" />
<line x1="513.30" y1="501.20" x2="726.00" y2="501.20" stroke="#3c3c3c" stroke-width="1.15" />
<line x1="513.30" y1="472.90" x2="513.30" y2="501.70" stroke="#3c3c3c" stroke-width="1.15" />
<line x1="561.50" y1="472.90" x2="561.50" y2="501.70" stroke="#3c3c3c" stroke-width="1.15" />
<line x1="579.30" y1="472.90" x2="579.30" y2="501.70" stroke="#3c3c3c" stroke-width="1.15" />
<line x1="625.00" y1="472.90" x2="625.00" y2="501.70" stroke="#3c3c3c" stroke-width="1.15" />
<line x1="661.70" y1="472.90" x2="661.70" y2="501.70" stroke="#3c3c3c" stroke-width="1.15" />
<line x1="726.00" y1="472.90" x2="726.00" y2="501.70" stroke="#3c3c3c" stroke-width="1.15" />
<text x="537.40" y="483.00" font-size="10.0" text-anchor="middle" font-weight="bold" fill="#111" >Date</text>
<text x="570.40" y="483.00" font-size="10.0" text-anchor="middle" font-weight="bold" fill="#111" >PR</text>
<text x="602.15" y="483.00" font-size="10.0" text-anchor="middle" font-weight="bold" fill="#111" >Debit</text>
<text x="643.35" y="483.00" font-size="10.0" text-anchor="middle" font-weight="bold" fill="#111" >Credit</text>
<text x="693.85" y="483.00" font-size="10.0" text-anchor="middle" font-weight="bold" fill="#111" >Balance</text>
<text x="519.50" y="498.00" font-size="10.0" fill="#111" >Feb.</text>
<text x="553.90" y="498.00" font-size="10.0" text-anchor="end" fill="#111" >28</text>
<text x="570.70" y="498.00" font-size="10.0" text-anchor="middle" fill="#111" >S3</text>
<text x="614.40" y="498.00" font-size="10.0" text-anchor="end" fill="#111" >1,500</text>
<text x="709.60" y="498.00" font-size="10.0" text-anchor="end" fill="#111" >1,500</text>
<path d="M472.30,361.90 L361.80,361.90 L342.38,345.20" stroke="#5674a3" stroke-width="1.3" fill="none" stroke-linejoin="miter"/>
<polygon points="335.40,339.20 346.47,343.97 341.77,349.43" fill="#2e5e94"/>
<path d="M472.30,375.00 L358.20,375.00 L342.35,361.23" stroke="#5674a3" stroke-width="1.3" fill="none" stroke-linejoin="miter"/>
<polygon points="335.40,355.20 346.44,360.02 341.72,365.46" fill="#2e5e94"/>
<path d="M472.30,430.40 L358.20,430.40 L342.26,416.13" stroke="#5674a3" stroke-width="1.3" fill="none" stroke-linejoin="miter"/>
<polygon points="335.40,410.00 346.37,414.99 341.57,420.35" fill="#2e5e94"/>
<path d="M472.30,488.30 L361.30,488.30 L342.37,472.00" stroke="#5674a3" stroke-width="1.3" fill="none" stroke-linejoin="miter"/>
<polygon points="335.40,466.00 346.46,470.78 341.77,476.23" fill="#2e5e94"/>
<path d="M472.30,501.40 L357.90,501.40 L342.40,488.17" stroke="#5674a3" stroke-width="1.3" fill="none" stroke-linejoin="miter"/>
<polygon points="335.40,482.20 346.48,486.93 341.81,492.40" fill="#2e5e94"/>
<path d="M472.30,555.30 L357.90,555.30 L342.44,542.32" stroke="#5674a3" stroke-width="1.3" fill="none" stroke-linejoin="miter"/>
<polygon points="335.40,536.40 346.52,541.04 341.89,546.55" fill="#2e5e94"/>
<path d="M472.30,608.80 L356.10,608.80 L342.43,597.24" stroke="#5674a3" stroke-width="1.3" fill="none" stroke-linejoin="miter"/>
<polygon points="335.40,591.30 346.51,595.98 341.86,601.47" fill="#2e5e94"/>
<path d="M566.6,191.4 L606.7,191.4 L606.7,247.5 L489.4,247.5 L489.4,458.0" stroke="#6a1046" stroke-width="1.2" fill="none" />
<path d="M489.30,351.00 L560.20,351.00 L577.76,343.18" stroke="#6a1046" stroke-width="1.2" fill="none" stroke-linejoin="miter"/>
<polygon points="585.80,339.60 577.18,347.27 574.33,340.88" fill="#6a1046"/>
<path d="M489.30,458.00 L600.30,458.00 L618.20,454.08" stroke="#6a1046" stroke-width="1.2" fill="none" stroke-linejoin="miter"/>
<polygon points="626.80,452.20 616.80,457.97 615.31,451.13" fill="#6a1046"/>
<path d="M716.6,191.4 L754.7,191.4 L754.7,504.5" stroke="#6a1046" stroke-width="1.2" fill="none" />
<path d="M754.70,410.60 L687.80,410.60 L668.13,405.65" stroke="#6a1046" stroke-width="1.2" fill="none" stroke-linejoin="miter"/>
<polygon points="659.60,403.50 671.12,402.79 669.41,409.58" fill="#6a1046"/>
<path d="M754.70,504.50 L645.00,504.50 L624.81,499.15" stroke="#6a1046" stroke-width="1.2" fill="none" stroke-linejoin="miter"/>
<polygon points="616.30,496.90 627.83,496.33 626.04,503.10" fill="#6a1046"/>
<rect x="14.20" y="171.70" width="170.60" height="34.60" fill="#fffde6" stroke="#1a1a1a" stroke-width="1.0" />
<text x="21.30" y="184.10" font-size="11.2" fill="#151515" textLength="157.6" lengthAdjust="spacing">Totals are posted at the end of the</text>
<text x="22.40" y="198.80" font-size="11.2" fill="#151515" textLength="155.4" lengthAdjust="spacing">period to general ledger accounts.</text>
<path d="M184.8,189.6 L192.5,189.6 M198.7,182.5 L192.5,182.5 L192.5,197.3 L198.7,197.3" stroke="#1a1a1a" stroke-width="1.0" fill="none" />
<rect x="15.30" y="216.50" width="171.70" height="64.60" fill="#fffde6" stroke="#1a1a1a" stroke-width="1.0" />
<text x="23.20" y="229.20" font-size="11.2" fill="#151515" textLength="155.0" lengthAdjust="spacing">Individual line item amounts in the</text>
<text x="21.90" y="244.60" font-size="11.2" fill="#151515" textLength="157.6" lengthAdjust="spacing">Accounts Receivable Dr. and Sales</text>
<text x="20.20" y="260.00" font-size="11.2" fill="#151515" textLength="161.0" lengthAdjust="spacing">Cr. column are posted immediately</text>
<text x="46.80" y="274.60" font-size="11.2" fill="#151515" textLength="107.8" lengthAdjust="spacing">to the subsidiary ledger.</text>
<line x1="187.00" y1="248.70" x2="461.00" y2="248.70" stroke="#1a1a1a" stroke-width="1.0" />
<polygon points="471.0,248.7 459.2,245.0 459.2,252.4" fill="#1a1a1a"/>
<rect x="21.50" y="401.00" width="161.80" height="63.30" fill="#fffde6" stroke="#1a1a1a" stroke-width="1.0" />
<text x="39.20" y="413.80" font-size="11.2" fill="#151515" textLength="126.2" lengthAdjust="spacing">Customer accounts are in a</text>
<text x="25.95" y="429.10" font-size="11.2" fill="#151515" textLength="152.7" lengthAdjust="spacing">subsidiary ledger and the financial</text>
<text x="34.65" y="443.90" font-size="11.2" fill="#151515" textLength="135.3" lengthAdjust="spacing">statement accounts are in the</text>
<text x="68.95" y="458.60" font-size="11.2" fill="#151515" textLength="66.7" lengthAdjust="spacing">general ledger.</text>
<path d="M183.3,433.4 L193.3,433.4 M198.9,285.6 L193.3,285.6 L193.3,580.4 L198.9,580.4" stroke="#1a1a1a" stroke-width="1.0" fill="none" />
<text x="12.20" y="14.90" font-size="16.0" font-weight="bold" fill="#cc1f2e" textLength="93.6" lengthAdjust="spacing" stroke="#cc1f2e" stroke-width="0.35">EXHIBIT 7.5</text>
<text x="12.20" y="36.90" font-size="11.6" fill="#484848" textLength="98" lengthAdjust="spacing">Sales Journal with</text>
<text x="12.20" y="52.00" font-size="11.6" fill="#484848" textLength="44.6" lengthAdjust="spacing">Posting*</text>
<text x="12.40" y="577.70" font-size="10.9" font-weight="bold" fill="#2488d8" textLength="36.6" lengthAdjust="spacing" stroke="#2488d8" stroke-width="0.3">Point:</text>
<text x="53.90" y="577.70" font-size="10.45" fill="#2690dc" textLength="104.9" lengthAdjust="spacing">The $2,150 sum of the</text>
<text x="12.25" y="591.20" font-size="10.45" fill="#2690dc" textLength="139" lengthAdjust="spacing">five customer accounts equals</text>
<text x="12.25" y="605.20" font-size="10.45" fill="#2690dc" textLength="110.8" lengthAdjust="spacing">the balance in Accounts</text>
<text x="12.25" y="618.80" font-size="10.45" fill="#2690dc" textLength="128" lengthAdjust="spacing">Receivable control account.</text>
<text x="200.50" y="642.20" font-size="11.0" fill="#1a1a1a" textLength="565.5" lengthAdjust="spacing">*The sales journal in a <tspan font-style="italic">periodic</tspan> system would exclude the column on the far right titled “Cost of Goods Sold Dr.,</text>
<text x="203.80" y="654.40" font-size="11.0" fill="#1a1a1a" textLength="69" lengthAdjust="spacing">Inventory Cr.”</text>
</svg>
</body>
</html>
